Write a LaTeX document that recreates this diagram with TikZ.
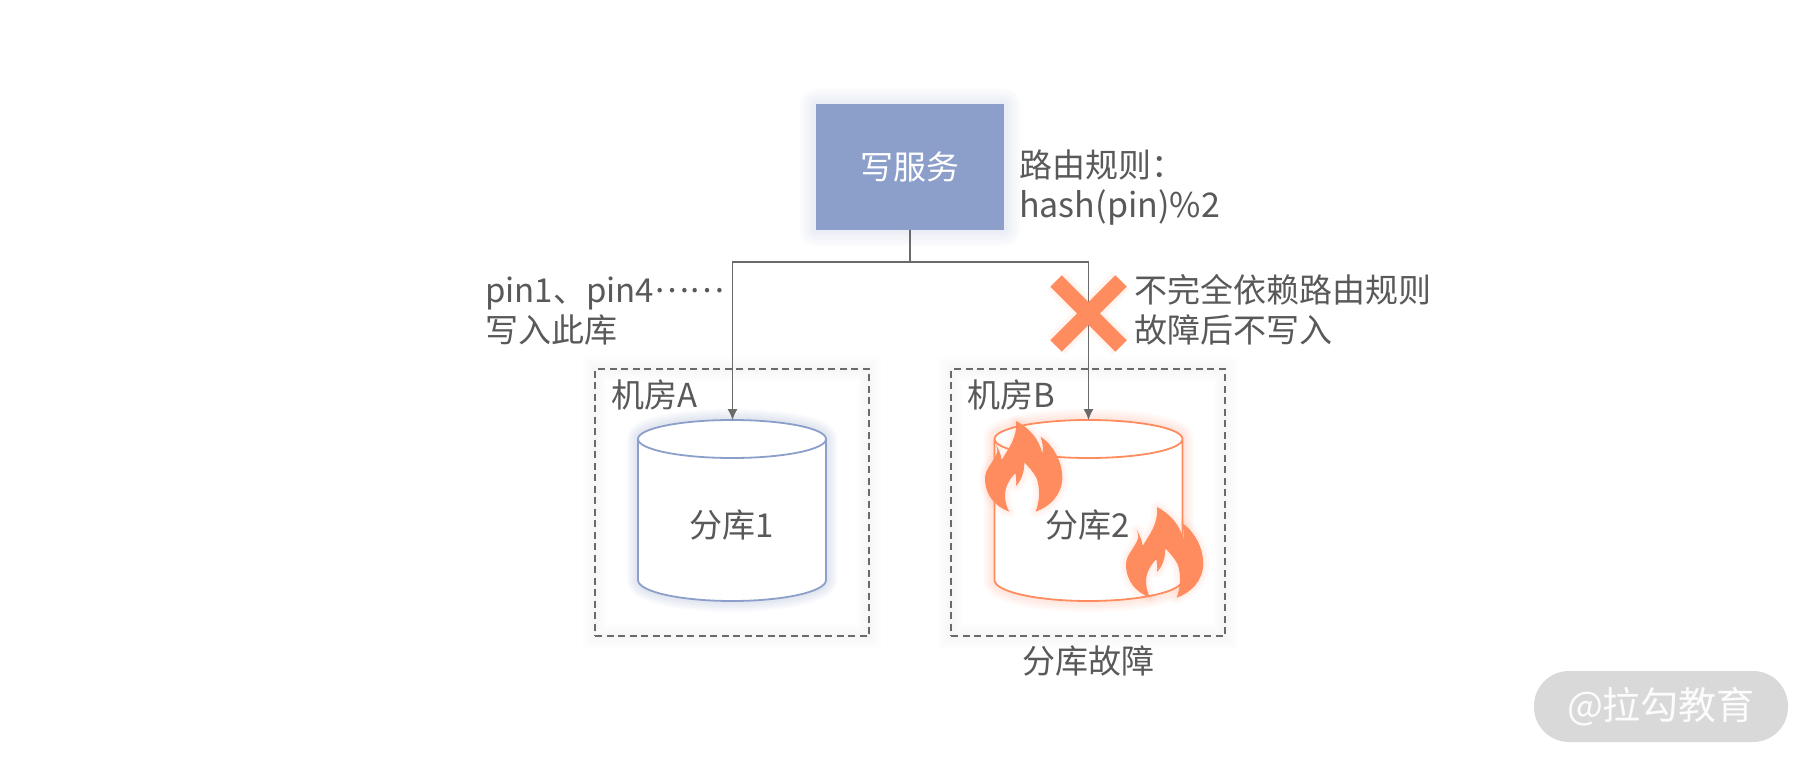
\documentclass[tikz,border=0pt]{standalone}
\usepackage{fontspec}
\setmainfont{Noto Sans CJK SC}
\usetikzlibrary{arrows.meta}
\definecolor{Ink}{HTML}{595959}
\definecolor{Wire}{HTML}{6A6A6A}
\definecolor{Slate}{HTML}{8C9FCA}
\definecolor{Coral}{HTML}{FF8C5F}
\definecolor{Pill}{HTML}{D9D9D9}
\tikzset{
  label/.style={font=\fontsize{33}{40}\selectfont,text=Ink,align=left,inner sep=0pt},
  room/.style={draw=Wire,line width=1.4pt,dash pattern=on 7pt off 4.5pt},
  wire/.style={draw=Wire,line width=1.2pt},
}
\def\flame{(108,33) .. controls (150,55) and (178,90) .. (187,130) .. controls (192,110) and (185,95) .. (182,80)
  .. controls (225,110) and (247,160) .. (247,205) .. controls (245,255) and (210,290) .. (167,305)
  .. controls (180,270) and (180,235) .. (170,205) .. controls (160,185) and (145,170) .. (133,157)
  .. controls (133,185) and (125,210) .. (108,228) .. controls (110,215) and (108,200) .. (106,190)
  .. controls (90,205) and (75,230) .. (75,255) .. controls (75,275) and (80,292) .. (88,305)
  .. controls (45,290) and (15,255) .. (15,205) .. controls (15,175) and (40,160) .. (52,125)
  .. controls (53,118) and (50,110) .. (47,102) .. controls (55,115) and (62,130) .. (65,150)
  .. controls (85,115) and (112,85) .. (108,33) -- cycle}
\def\cylpath#1{(#1-94,439)--(#1-94,580) arc[start angle=180,end angle=0,x radius=94,y radius=21]--(#1+94,439) arc[start angle=0,end angle=-180,x radius=94,y radius=19]}
\begin{document}
\begin{tikzpicture}[x=1pt,y=-1pt]
\useasboundingbox (0,0) rectangle (1814,767);
\fill[white] (0,0) rectangle (1814,767);
% write service
\foreach \w in {16,13,10,7,4} \fill[Slate,opacity=.03,rounded corners=\w pt] (816-\w,105-\w) rectangle (1004+\w,230+\w);
\node[fill=Slate,minimum width=188pt,minimum height=126pt,inner sep=0pt,font=\fontsize{33}{40}\selectfont,text=white] (write) at (910,167){写服务};
\node[label,anchor=north west] (rule) at (1019,150){路由规则：\\{\fontsize{34}{40}\selectfont hash(pin)\%2}};
% rooms
\foreach \x in {732,1088} \foreach \w in {24,18,12,6} \draw[black,opacity=.008,line width=\w pt] (\x-137,369) rectangle (\x+137,636);
\node[room,minimum width=274pt,minimum height=267pt,inner sep=0pt] (roomA) at (732,502.5){};
\node[room,minimum width=274pt,minimum height=267pt,inner sep=0pt] (roomB) at (1088,502.5){};
\node[label,anchor=north west] (nameA) at (611,380){机房A};
\node[label,anchor=north west] (nameB) at (967,380){机房B};
% databases
\foreach \x/\c/\o in {732/Slate/.05,1088.5/Coral/.04}{
  \foreach \w in {22,18,14,10,6} \draw[\c,opacity=\o,line width=\w pt,line join=round] \cylpath{\x} arc[start angle=180,end angle=0,x radius=94,y radius=19];
  \fill[white] \cylpath{\x};
  \draw[\c,line width=1.8pt] \cylpath{\x} arc[start angle=180,end angle=0,x radius=94,y radius=19];
}
\coordinate (topA) at (732.5,420);
\coordinate (topB) at (1088.5,420);
\node[label] (shardA) at (732,525){分库1};
\node[label] (shardB) at (1088,525){分库2};
\node[label] (failed) at (1088,661){分库故障};
% flames
\foreach \sx/\sy in {980/410,1121/496}{
  \begin{scope}[shift={(\sx,\sy)},x=.3333pt,y=-.3333pt]
    \foreach \w in {12,8,4} \draw[Coral,opacity=.04,line width=\w pt,line join=round] \flame;
    \fill[Coral] \flame;
  \end{scope}
}
% wires
\coordinate (split) at (910,262);
\draw[wire,-{Latex[length=11pt,width=10pt]}] (write.south)--(split)-|(topA);
\draw[wire,-{Latex[length=11pt,width=10pt]}] (split)-|(topB);
% cross
\foreach \w in {26,21} \draw[Coral,opacity=.05,line width=\w pt] (1056,281)--(1121,346) (1121,281)--(1056,346);
\draw[Coral,line width=16pt] (1056,281)--(1121,346) (1121,281)--(1056,346);
\node[label,anchor=north west] (left) at (485,277){pin1、pin4\raisebox{.3em}{……}\\写入此库};
\node[label,anchor=north west] (right) at (1134,274.5){不完全依赖路由规则\\故障后不写入};
% badge
\node[fill=Pill,rounded corners=35pt,minimum width=254pt,minimum height=71pt,inner sep=0pt,font=\fontsize{38}{40}\selectfont,text=white!92!Pill] (badge) at (1661,706.5){@拉勾教育};
\end{tikzpicture}
\end{document}
